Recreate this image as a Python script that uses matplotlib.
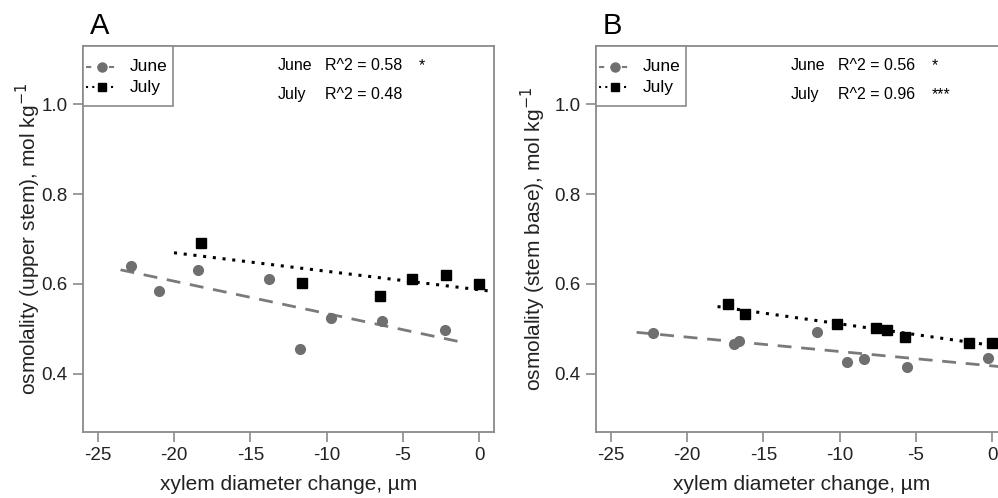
import numpy as np
import matplotlib
matplotlib.use("Agg")
import matplotlib.pyplot as plt
from matplotlib.lines import Line2D
from matplotlib.patches import Rectangle

plt.rcParams['font.family'] = ['Liberation Sans', 'DejaVu Sans']
plt.rcParams['axes.unicode_minus'] = False

# Painel A - caule superior
a_june_x = [-22.8, -21.0, -18.4, -13.8, -11.75, -9.7, -6.4, -2.25]
a_june_y = [0.640, 0.584, 0.630, 0.611, 0.456, 0.524, 0.518, 0.497]
a_july_x = [-18.2, -11.6, -6.5, -4.4, -2.2, 0.0]
a_july_y = [0.692, 0.603, 0.574, 0.611, 0.619, 0.599]

# Painel B - base do caule
b_june_x = [-22.2, -16.9, -16.6, -11.5, -9.5, -8.4, -5.6, -0.3]
b_june_y = [0.490, 0.465, 0.473, 0.492, 0.427, 0.433, 0.415, 0.435]
b_july_x = [-17.3, -16.2, -10.2, -7.6, -6.9, -5.7, -1.5, -0.05]
b_july_y = [0.555, 0.534, 0.510, 0.502, 0.497, 0.482, 0.469, 0.469]

# extensao das retas de regressao
a_june_fit = [-23.5, -0.9]
a_july_fit = [-20.0, 2.0]
b_june_fit = [-23.3, 2.0]
b_july_fit = [-18.0, 2.0]

r2_a = ["R^2 = 0.58", "R^2 = 0.48"]
sig_a = ["*", ""]
r2_b = ["R^2 = 0.56", "R^2 = 0.96"]
sig_b = ["*", "***"]

cinza = '#6f6f6f'
borda = '#8a8a8a'

fig = plt.figure(figsize=(9.98, 4.98), dpi=100)
axA = fig.add_axes([83/998, 1 - 432/498, 411/998, 386/498])
axB = fig.add_axes([596/998, 1 - 432/498, 411/998, 386/498])


def fx(px):
    # pixel horizontal -> fracao do eixo
    return px / 411


def fy(py):
    return 1 - py / 386


def legenda(ax):
    ax.add_patch(Rectangle((0, fy(60)), fx(90), 1 - fy(60), transform=ax.transAxes,
                           fill=True, facecolor='white', edgecolor=borda, lw=1.2,
                           zorder=5, clip_on=False))
    yj, yk = fy(20.7), fy(41.3)
    ax.add_line(Line2D([fx(3), fx(34)], [yj, yj], transform=ax.transAxes, color='#7a7a7a',
                       lw=1.5, ls=(0, (2.5, 3)), zorder=6))
    ax.add_line(Line2D([fx(19)], [yj], transform=ax.transAxes, marker='o', color=cinza,
                       ms=6.5, zorder=7))
    ax.add_line(Line2D([fx(3), fx(34)], [yk, yk], transform=ax.transAxes, color='black',
                       lw=1.5, ls=(0, (1, 2)), zorder=6))
    ax.add_line(Line2D([fx(19)], [yk], transform=ax.transAxes, marker='s', color='black',
                       ms=6, zorder=7))
    ax.text(fx(47), yj, "June", transform=ax.transAxes, fontsize=12.5, va='center', zorder=7)
    ax.text(fx(47), yk, "July", transform=ax.transAxes, fontsize=12.5, va='center', zorder=7)


def desenhar(ax, jx, jy, kx, ky, jfit, kfit, r2, sig, letra, ylabel, lpad):
    # retas de regressao
    cj = np.polyfit(jx, jy, 1)
    ck = np.polyfit(kx, ky, 1)
    xj = np.array(jfit)
    xk = np.array(kfit)
    ax.plot(xj, np.polyval(cj, xj), color='#7a7a7a', lw=2, ls=(0, (5, 3.5)))
    ax.plot(xk, np.polyval(ck, xk), color='black', lw=2.2, ls=(0, (1, 2.2)))
    ax.plot(jx, jy, 'o', color=cinza, ms=7, mec=cinza)
    ax.plot(kx, ky, 's', color='black', ms=6.5)

    ax.set_xlim(-25.96, 0.96)
    ax.set_ylim(0.27, 1.13)
    ax.set_xticks([-25, -20, -15, -10, -5, 0])
    ax.set_yticks([0.4, 0.6, 0.8, 1.0])
    ax.set_yticklabels(["0.4", "0.6", "0.8", "1.0"])
    for s in ax.spines.values():
        s.set_color(borda)
        s.set_linewidth(1.3)
    ax.tick_params(direction='out', length=7, width=1.2, color=borda,
                   labelsize=13.5, labelcolor='#222222', pad=4)
    ax.set_xlabel("xylem diameter change, µm", fontsize=15, color='#222222', labelpad=8)
    ax.set_ylabel(ylabel, fontsize=15, color='#222222', labelpad=lpad)

    legenda(ax)

    ax.text(0.474, 0.949, "June", transform=ax.transAxes, fontsize=11.5, va='center')
    ax.text(0.474, 0.875, "July", transform=ax.transAxes, fontsize=11.5, va='center')
    for i, yy in enumerate([0.949, 0.875]):
        ax.text(0.589, yy, r2[i], transform=ax.transAxes, fontsize=11.5, va='center')
        ax.text(0.818, yy, sig[i], transform=ax.transAxes, fontsize=11.5, va='center')

    ax.text(0.017, 1.015, letra, transform=ax.transAxes, fontsize=21, va='bottom')


desenhar(axA, a_june_x, a_june_y, a_july_x, a_july_y, a_june_fit, a_july_fit,
         r2_a, sig_a, "A", "osmolality (upper stem), mol kg$^{-1}$", -1)
desenhar(axB, b_june_x, b_june_y, b_july_x, b_july_y, b_june_fit, b_july_fit,
         r2_b, sig_b, "B", "osmolality (stem base), mol kg$^{-1}$", 5)

fig.savefig("out.png", dpi=100)
